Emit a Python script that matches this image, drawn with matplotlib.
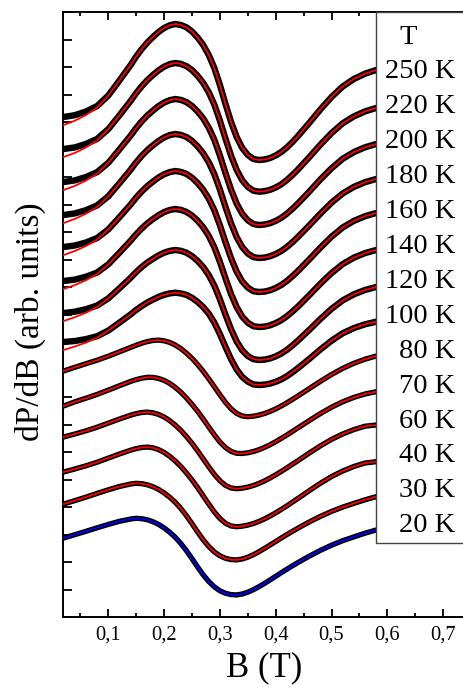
import matplotlib
matplotlib.use('Agg')
import matplotlib.pyplot as plt
from matplotlib.ticker import MultipleLocator, FuncFormatter
from matplotlib.patches import Rectangle

plt.rcParams['font.family'] = ['Liberation Serif', 'DejaVu Serif']

# magnetic field grid (T)
B = [0.02, 0.04, 0.06, 0.08, 0.10, 0.12, 0.14, 0.15, 0.16, 0.17, 0.18, 0.19,
     0.20, 0.21, 0.22, 0.23, 0.24, 0.25, 0.26, 0.27, 0.28, 0.29, 0.30, 0.31,
     0.32, 0.33, 0.34, 0.35, 0.36, 0.37, 0.38, 0.39, 0.40, 0.41, 0.42, 0.43,
     0.44, 0.46, 0.48, 0.50, 0.52, 0.54, 0.56, 0.58]

temps = ['250 K', '220 K', '200 K', '180 K', '160 K', '140 K', '120 K',
         '100 K', '80 K', '70 K', '60 K', '40 K', '30 K', '20 K']

# dP/dB (arb. units, curves already offset)
s250 = [500, 501.8, 505.5, 511, 521.5, 536.5, 552, 560.5, 568, 574.5, 580, 585, 589, 591.7, 593,
        592, 589.7, 585.5, 579.5, 572, 562, 549, 532, 513, 495, 480, 469, 462, 458, 457,
        457.5, 459, 461.5, 465, 469.5, 475, 481, 494, 507.5, 520, 530.5, 538, 543.3, 547]
s220 = [468, 469.6, 473.1, 478.1, 487.9, 501.7, 516.1, 523.9, 530.9, 536.9, 542, 546.6, 550.3, 552.8, 554,
        553.1, 550.9, 546.9, 541.2, 534.1, 524.7, 512.4, 496.3, 478.3, 461.3, 447.1, 436.7, 430.1, 426.3, 425.3,
        425.8, 427.2, 429.5, 432.7, 436.9, 442, 447.6, 459.7, 472.3, 483.9, 493.7, 500.6, 505.6, 509]
s200 = [435, 436.6, 440, 444.9, 454.2, 467.6, 481.4, 489, 495.7, 501.5, 506.4, 510.9, 514.4, 516.8, 518,
        517.1, 514.9, 511.1, 505.5, 498.6, 489.3, 477.3, 461.5, 443.9, 427.3, 413.4, 403.2, 396.7, 393, 392,
        392.5, 393.8, 396.1, 399.2, 403.3, 408.2, 413.6, 425.3, 437.5, 448.7, 458.2, 464.9, 469.7, 473]
s180 = [402, 403.6, 406.8, 411.6, 420.7, 433.8, 447.3, 454.7, 461.2, 466.9, 471.7, 476, 479.5, 481.9, 483,
        482.1, 480, 476.2, 470.7, 463.8, 454.7, 442.9, 427.4, 410, 393.6, 379.9, 369.9, 363.5, 359.9, 359,
        359.4, 360.8, 363, 366, 370, 374.8, 380.1, 391.5, 403.3, 414.3, 423.5, 430.1, 434.8, 438]
s160 = [370, 371.5, 374.5, 379, 387.6, 399.8, 412.5, 419.4, 425.6, 430.9, 435.4, 439.5, 442.7, 444.9, 446,
        445.1, 443.1, 439.3, 434, 427.3, 418.4, 406.8, 391.7, 374.8, 358.8, 345.4, 335.6, 329.4, 325.8, 325,
        325.4, 326.8, 329, 332, 336, 340.8, 346.1, 357.5, 369.3, 380.3, 389.5, 396.1, 400.8, 404]
s140 = [336, 337.4, 340.3, 344.5, 352.7, 364.3, 376.3, 382.8, 388.6, 393.7, 397.9, 401.8, 404.9, 407, 408,
        407.1, 405.1, 401.5, 396.3, 389.8, 381.1, 369.8, 355.1, 338.6, 322.9, 309.9, 300.4, 294.3, 290.8, 290,
        290.4, 291.7, 293.9, 296.8, 300.7, 305.4, 310.5, 321.7, 333.2, 343.9, 352.9, 359.3, 363.9, 367]
s120 = [304, 305.3, 307.8, 311.5, 318.6, 328.7, 339.2, 345, 350.1, 354.5, 358.2, 361.6, 364.3, 366.1, 367,
        366.2, 364.3, 360.9, 356.1, 350, 341.9, 331.4, 317.7, 302.3, 287.7, 275.6, 266.7, 261, 257.8, 257,
        257.4, 258.6, 260.6, 263.5, 267.1, 271.6, 276.5, 287, 298, 308.1, 316.6, 322.7, 327, 330]
s100 = [275, 276, 277.9, 280.8, 286.4, 294.4, 302.6, 307.1, 311, 314.5, 317.4, 320.1, 322.2, 323.6, 324.3,
        323.6, 322.1, 319.2, 315.1, 310, 303.3, 294.4, 282.9, 270, 257.8, 247.6, 240.1, 235.4, 232.6, 232,
        232.4, 233.4, 235.2, 237.6, 240.8, 244.7, 248.9, 258, 267.5, 276.3, 283.7, 288.9, 292.7, 295.3]
s80 = [246, 249.7, 253.3, 256.8, 260.8, 265.2, 269.6, 271.8, 273.8, 275.4, 276.5, 276.9, 276.2, 274.6, 272,
       268.4, 263.9, 258.6, 252.5, 245.7, 238.2, 230.2, 222.2, 214.6, 208.2, 203.6, 201, 200.3, 200.8, 201.9,
       203.5, 205.6, 208.1, 211, 214.2, 217.6, 221.1, 228.4, 235.6, 242.5, 248.6, 253.7, 257.8, 261]
s70 = [211, 215.2, 218.8, 222.6, 226.9, 231.3, 235.6, 237.4, 238.8, 239.7, 239.6, 238.6, 236.6, 233.6, 229.6,
       224.8, 219.1, 212.6, 205.7, 198, 190, 182.2, 175, 169.4, 165.6, 163.7, 163.5, 164.2, 165.5, 167.3,
       169.6, 172.3, 175.3, 178.6, 182, 185.6, 189.2, 196.4, 203.4, 209.8, 215.2, 219.6, 223, 225.3]
s60 = [180, 183, 186.2, 189.8, 193.9, 198, 201.8, 203.4, 204.5, 204.9, 204.2, 202.6, 200, 196.4, 191.9,
       186.6, 180.5, 173.7, 166.2, 158.2, 150.2, 142.6, 136.2, 131.6, 129, 128.3, 128.8, 129.9, 131.5, 133.6,
       136.1, 139, 142.2, 145.6, 149.1, 152.8, 156.4, 163.9, 171.1, 177.6, 183, 187.4, 190.8, 192]
s40 = [145, 148, 151.2, 154.8, 158.9, 163, 166.8, 168.4, 169.5, 169.9, 169.2, 167.4, 164.6, 160.7, 156,
       150.5, 144.1, 137.1, 129.4, 121.1, 112.9, 105.1, 98.5, 93.7, 91, 90.3, 90.8, 91.9, 93.5, 95.6,
       98.1, 101, 104.2, 107.6, 111.1, 114.9, 118.6, 126.3, 133.7, 140.4, 146, 150.5, 154, 155.3]
s30 = [113, 116.4, 119.9, 123.6, 127.2, 130.5, 133, 133.7, 133.3, 132.2, 130.3, 127.6, 124.1, 119.8, 114.7,
       108.5, 101.3, 93.3, 85, 77.2, 70.5, 65.1, 61.2, 58.7, 57.4, 57.1, 58, 59.8, 62.3, 65.3,
       68.6, 72, 75.5, 79, 82.4, 85.7, 88.9, 95, 100.6, 105.6, 109.9, 113.6, 117.2, 120.3]
s20 = [79, 82.3, 85.7, 89.2, 92.6, 95.7, 98, 98.7, 98.3, 97.2, 95.3, 92.6, 89.1, 84.8, 79.7,
       73.5, 66.3, 58.3, 50, 42.2, 35.5, 30.1, 26.2, 23.7, 22.4, 22.1, 23, 24.8, 27.3, 30.3,
       33.6, 37.1, 40.7, 44.3, 47.8, 51.2, 54.5, 60.8, 66.6, 71.8, 76.3, 80.1, 83.8, 87]

spectra = [s250, s220, s200, s180, s160, s140, s120, s100, s80, s70, s60, s40, s30, s20]

# the fit lines run below the data at low field for the upper curves
fit_left = [[492, 496.3, 502, 509.5], [460, 464.1, 469.6, 476.6],
            [427, 431.1, 436.5, 443.4], [394, 398.1, 403.3, 410.1],
            [362, 366, 371, 377.5], [328, 331.9, 336.8, 343],
            [296, 299.8, 304.3, 310], [267, 270.5, 274.4, 279.3]]

W, H = 463, 698
fig = plt.figure(figsize=(W / 100, H / 100), dpi=100)
ax = fig.add_axes([63 / W, (H - 617) / H, 413.6 / W, 605 / H])

for i, s in enumerate(spectra):
    lw = 4.6 if i < 8 else 3.8
    ax.plot(B, s, color='black', lw=lw, solid_capstyle='round',
            solid_joinstyle='round', zorder=2)
    fit = list(s)
    if i < len(fit_left):
        fit[:4] = fit_left[i]
    col = 'blue' if temps[i] == '20 K' else 'red'
    ax.plot(B, fit, color=col, lw=1.3, solid_joinstyle='round', zorder=3)

ax.set_xlim(0.0188, 0.76)
ax.set_ylim(0, 605)
ax.xaxis.set_major_locator(MultipleLocator(0.1))
ax.xaxis.set_minor_locator(MultipleLocator(0.05))
ax.yaxis.set_major_locator(MultipleLocator(27.5))
ax.xaxis.set_major_formatter(FuncFormatter(lambda v, p: f'{v:.1f}'.replace('.', ',')))
ax.set_yticklabels([])
ax.tick_params(axis='both', which='both', direction='in', top=True, right=False,
               width=1.3, labelsize=14.8, pad=6)
ax.tick_params(axis='x', which='major', length=6)
ax.tick_params(axis='x', which='minor', length=3)
ax.tick_params(axis='y', which='major', length=6.5)
for sp in ['left', 'bottom', 'top']:
    ax.spines[sp].set_linewidth(1.4)
ax.spines['right'].set_visible(False)

ax.set_xlabel('B (T)', fontsize=25)
ax.xaxis.set_label_coords((264 - 63) / 413.6, (617 - 668) / 605)
ax.xaxis.label.set_va('center')
ax.set_ylabel('dP/dB (arb. units)', fontsize=24)
ax.yaxis.set_label_coords((30 - 63) / 413.6, (617 - 322) / 605)
ax.yaxis.label.set_va('center')

# temperature box
box = Rectangle((376 / W, 1 - 543 / H), 0.3, (543 - 12) / H, transform=fig.transFigure,
                facecolor='white', edgecolor='#444444', lw=1.0, zorder=5)
fig.patches.append(box)
fig.text(408 / W, 1 - 37 / H, 'T', ha='center', va='center', fontsize=20.5, zorder=6)
for i, t in enumerate(temps):
    fig.text(455 / W, 1 - (72 + 34.9 * i) / H, t, ha='right', va='center',
             fontsize=20.5, zorder=6)

fig.savefig('out.png', dpi=100)
